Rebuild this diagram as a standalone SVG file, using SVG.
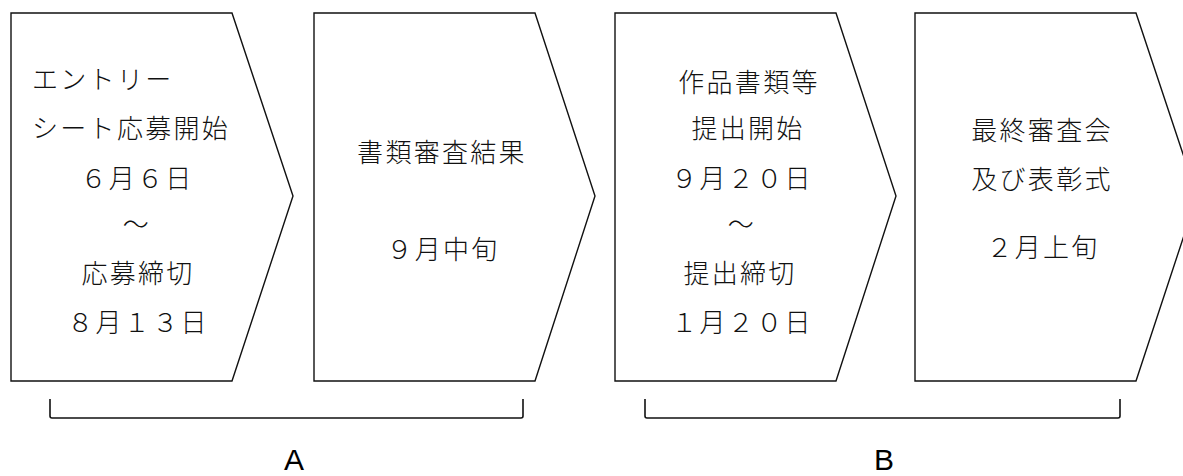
<svg xmlns="http://www.w3.org/2000/svg" width="1183" height="476" viewBox="0 0 1183 476">
<style>
.shape{fill:#fff;stroke:#111;stroke-width:1.4;stroke-linejoin:miter}
.t{font-family:"Noto Sans CJK JP","Noto Sans CJK SC",sans-serif;font-size:26px;fill:#111;letter-spacing:2.3px;dominant-baseline:central;text-anchor:middle;font-weight:300}
.ts{text-anchor:start}
.br{fill:none;stroke:#111;stroke-width:1.6}
.lab{font-family:"Liberation Sans",Arial,sans-serif;font-size:30px;fill:#000;text-anchor:middle}
</style>
<rect width="1183" height="476" fill="#fff"/>
<g id="step1">
<polygon class="shape" points="11,13 232,13 293,196 232,381 11,381"/>
<text class="t ts" x="32" y="77">エントリー</text>
<text class="t ts" x="32" y="126">シート応募開始</text>
<text class="t" x="137" y="176">６月６日</text>
<text class="t" x="137" y="222">～</text>
<text class="t" x="138" y="271">応募締切</text>
<text class="t" x="138" y="320">８月１３日</text>
</g>
<g id="step2">
<polygon class="shape" points="314,13 535,13 595,196 535,381 314,381"/>
<text class="t" x="442" y="150">書類審査結果</text>
<text class="t" x="443" y="247">９月中旬</text>
</g>
<g id="step3">
<polygon class="shape" points="615,13 836,13 896,196 836,381 615,381"/>
<text class="t" x="749" y="80">作品書類等</text>
<text class="t" x="748" y="126">提出開始</text>
<text class="t" x="742" y="176">９月２０日</text>
<text class="t" x="742" y="222">～</text>
<text class="t" x="740" y="271">提出締切</text>
<text class="t" x="742" y="320">１月２０日</text>
</g>
<g id="step4">
<polygon class="shape" points="915,13 1136,13 1197,196 1136,381 915,381"/>
<text class="t" x="1042" y="128">最終審査会</text>
<text class="t" x="1042" y="177">及び表彰式</text>
<text class="t" x="1043" y="245">２月上旬</text>
</g>
<g id="connectors">
<path class="br" d="M50,399 V416 Q50,418 52,418 H521 Q523,418 523,416 V399"/>
<path class="br" d="M645,399 V416 Q645,418 647,418 H1118 Q1120,418 1120,416 V399"/>
</g>
<g id="labelA"><text class="lab" x="294" y="470">A</text></g>
<g id="labelB"><text class="lab" x="884" y="470">B</text></g>
</svg>
